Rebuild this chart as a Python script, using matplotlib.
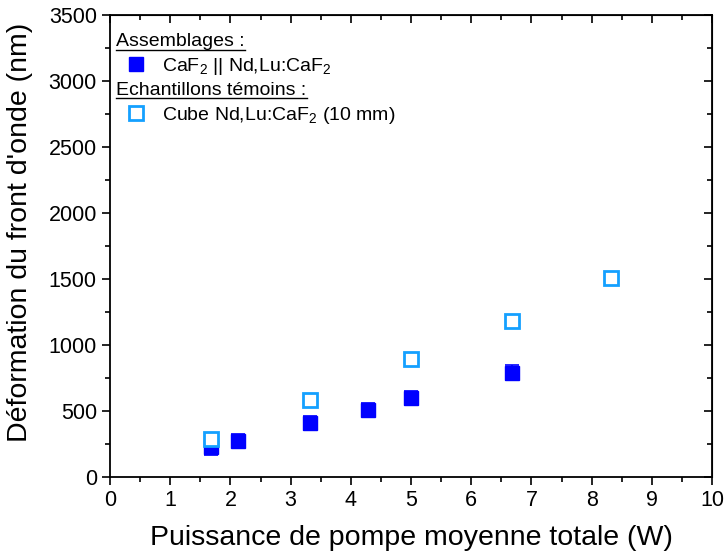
import matplotlib
matplotlib.use("Agg")
import matplotlib.pyplot as plt
from matplotlib.lines import Line2D
from matplotlib.ticker import MultipleLocator

plt.rcParams['font.family'] = ['Liberation Sans', 'DejaVu Sans']
plt.rcParams['mathtext.default'] = 'regular'

# Data
x_assemb = [1.67, 2.13, 3.33, 4.29, 5.0, 6.67]
y_assemb = [225, 275, 410, 510, 598, 790]
err_assemb = [60, 50, 55, 50, 50, 55]

x_cube = [1.67, 3.33, 5.0, 6.67, 8.33]
y_cube = [290, 583, 895, 1185, 1505]
err_cube = [40, 40, 40, 40, 40]

xticks = list(range(0, 11))
yticks = list(range(0, 3501, 500))

blue = '#0000ff'
light = '#14a0ff'

fig = plt.figure(figsize=(7.26, 5.58), dpi=100)
ax = fig.add_axes([110/726, 1-477/558, 602/726, 462/558])

ax.errorbar(x_assemb, y_assemb, yerr=err_assemb, fmt='s', color=blue, ms=10,
            mec=blue, mfc=blue, capsize=5, elinewidth=1.2, capthick=1.2, zorder=3)
ax.errorbar(x_cube, y_cube, yerr=err_cube, fmt='s', color=light, ms=10,
            mec=light, mfc='white', mew=2, capsize=5, elinewidth=1.2, capthick=1.2, zorder=4)

ax.set_xlim(0, 10)
ax.set_ylim(0, 3500)
ax.set_xticks(xticks)
ax.set_yticks(yticks)
ax.xaxis.set_minor_locator(MultipleLocator(0.5))
ax.yaxis.set_minor_locator(MultipleLocator(250))
ax.tick_params(axis='both', which='major', direction='out', length=6, width=1.2, labelsize=15.5)
ax.tick_params(axis='both', which='minor', direction='out', length=3.5, width=1.2)
sx = ax.secondary_xaxis('top')
sx.set_xticks(xticks)
sx.xaxis.set_minor_locator(MultipleLocator(0.5))
sx.tick_params(which='major', direction='in', length=6, width=1.2, labeltop=False)
sx.tick_params(which='minor', direction='in', length=3.5, width=1.2)
sy = ax.secondary_yaxis('right')
sy.set_yticks(yticks)
sy.yaxis.set_minor_locator(MultipleLocator(250))
sy.tick_params(which='major', direction='in', length=6, width=1.2, labelright=False)
sy.tick_params(which='minor', direction='in', length=3.5, width=1.2)
for s in ax.spines.values():
    s.set_linewidth(1.3)

ax.set_xlabel('Puissance de pompe moyenne totale (W)', fontsize=20.5, labelpad=10)
ax.set_ylabel("Déformation du front d'onde (nm)", fontsize=20.5)
ax.yaxis.set_label_coords(-0.128, 0.53)

h1 = Line2D([], [], marker='s', ls='none', color=blue, ms=10)
h2 = Line2D([], [], marker='s', ls='none', color=light, mfc='white', mew=2, ms=10)
common = dict(loc='upper left', frameon=False, fontsize=14, title_fontsize=14,
              alignment='left', handlelength=2.05, handletextpad=0.3,
              borderpad=0.2, labelspacing=0.3)
leg1 = ax.legend([h1], ['CaF$_2$ || Nd,Lu:CaF$_2$'], title='Assemblages :',
                 bbox_to_anchor=(-0.012, 0.99), **common)
ax.add_artist(leg1)
leg2 = ax.legend([h2], ['Cube Nd,Lu:CaF$_2$ (10 mm)'], title='Echantillons témoins :',
                 bbox_to_anchor=(-0.012, 0.885), **common)

fig.canvas.draw()
r = fig.canvas.get_renderer()
for lg in (leg1, leg2):
    t = lg.get_title()
    bb = t.get_window_extent(r)
    y = bb.y0 + 0.5
    fig.add_artist(Line2D([bb.x0/fig.bbox.width, bb.x1/fig.bbox.width],
                          [y/fig.bbox.height, y/fig.bbox.height],
                          color='black', lw=1.0, transform=fig.transFigure))

fig.savefig('out.png', dpi=100)
